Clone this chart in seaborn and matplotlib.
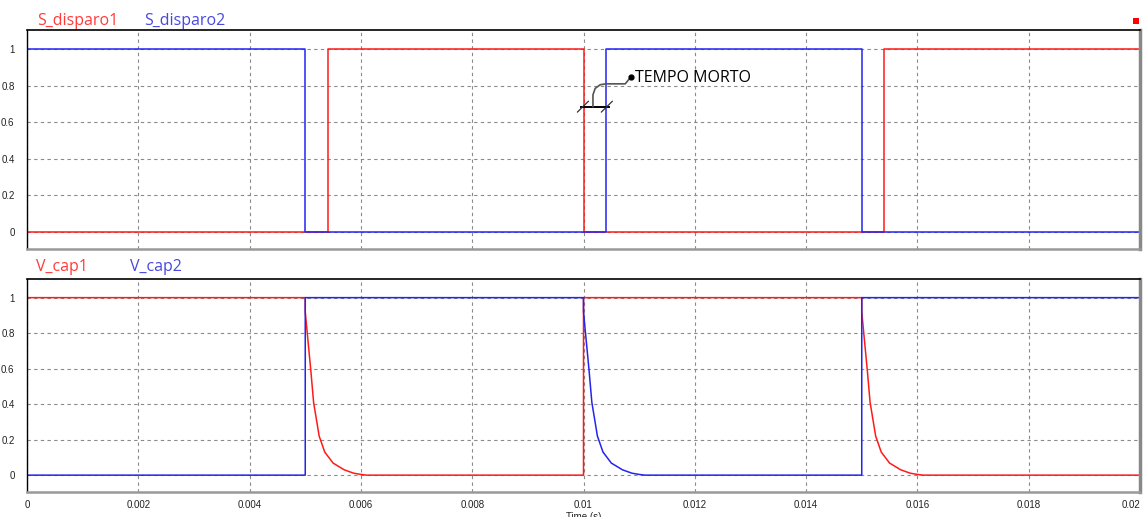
import matplotlib
matplotlib.use("Agg")
import matplotlib.pyplot as plt
from matplotlib.patches import Rectangle
import numpy as np
import pandas as pd
import seaborn as sns

# Gate signals (upper panel)
s1_t = [0.0, 0.0, 0.0054, 0.0054, 0.0100, 0.0100, 0.0154, 0.0154, 0.0200]
s1_v = [1.0, 0.0, 0.0, 1.0, 1.0, 0.0, 0.0, 1.0, 1.0]
s2_t = [0.0, 0.0050, 0.0050, 0.0104, 0.0104, 0.0150, 0.0150, 0.0200]
s2_v = [1.0, 1.0, 0.0, 0.0, 1.0, 1.0, 0.0, 0.0]

# Capacitor voltages (lower panel): discharge profile after each switching edge
decay_dt = [0.0, 0.00003, 0.0001, 0.00015, 0.00025, 0.00035, 0.0005, 0.0007, 0.00087, 0.001, 0.0011]
decay_v = [0.92, 0.82, 0.59, 0.41, 0.22, 0.13, 0.068, 0.03, 0.011, 0.004, 0.0]
switch_times = [0.005, 0.010, 0.015]

t_end = 0.02
red_c = "#ff1a1a"
blue_c = "#2424f0"


def vcap1():
    t = [0.0, 0.0, switch_times[0]]
    v = [0.5, 1.0, 1.0]
    t += [switch_times[0] + d for d in decay_dt]
    v += decay_v
    t += [switch_times[1], switch_times[1], switch_times[2]]
    v += [0.0, 1.0, 1.0]
    t += [switch_times[2] + d for d in decay_dt]
    v += decay_v
    t += [t_end]
    v += [0.0]
    return t, v


def vcap2():
    t = [0.0, switch_times[0], switch_times[0], switch_times[1]]
    v = [0.0, 0.0, 1.0, 1.0]
    t += [switch_times[1] + d for d in decay_dt]
    v += decay_v
    t += [switch_times[2], switch_times[2], t_end]
    v += [0.0, 1.0, 1.0]
    return t, v


sns.set_style("white")
plt.rcParams["font.family"] = ["Liberation Sans", "DejaVu Sans"]

W, H = 1145, 517
fig = plt.figure(figsize=(W / 100, H / 100), dpi=100)


def px_axes(x0, y0, x1, y1):
    return fig.add_axes([x0 / W, 1 - y1 / H, (x1 - x0) / W, (y1 - y0) / H])


ax1 = px_axes(27, 30, 1140, 249)
ax2 = px_axes(27, 279, 1140, 492)

xt = np.round(np.arange(0, 0.0201, 0.002), 3)
yt = np.round(np.arange(0, 1.01, 0.2), 1)

for ax in (ax1, ax2):
    ax.set_xlim(0, t_end)
    ax.set_ylim(-0.095, 1.105)
    ax.set_xticks(xt)
    ax.set_yticks(yt)
    ax.set_yticklabels([f"{v:g}" for v in yt])
    ax.grid(True, color="#8a8a8a", linestyle=(0, (3, 3)), linewidth=0.8)
    ax.tick_params(length=0, labelsize=7, labelcolor="#222222")
    ax.tick_params(axis="y", pad=9)
    ax.tick_params(axis="x", pad=6)
    ax.spines["top"].set_color("black")
    ax.spines["top"].set_linewidth(1.2)
    ax.spines["left"].set_color("black")
    ax.spines["left"].set_linewidth(1.0)
    ax.spines["right"].set_color("#888888")
    ax.spines["right"].set_linewidth(2.5)
    ax.spines["bottom"].set_color("#999999")
    ax.spines["bottom"].set_linewidth(1.8)

ax1.set_xticklabels([])
xlabels = ax2.set_xticklabels([f"{v:g}" for v in xt])
xlabels[-1].set_horizontalalignment("right")

df_s1 = pd.DataFrame({"t": s1_t, "v": s1_v})
df_s2 = pd.DataFrame({"t": s2_t, "v": s2_v})
sns.lineplot(data=df_s1, x="t", y="v", estimator=None, sort=False, color=red_c, lw=1.1, ax=ax1)
sns.lineplot(data=df_s2, x="t", y="v", estimator=None, sort=False, color=blue_c, lw=1.1, ax=ax1)

c1_t, c1_v = vcap1()
c2_t, c2_v = vcap2()
df_c1 = pd.DataFrame({"t": c1_t, "v": c1_v})
df_c2 = pd.DataFrame({"t": c2_t, "v": c2_v})
sns.lineplot(data=df_c1, x="t", y="v", estimator=None, sort=False, color=red_c, lw=1.1, ax=ax2)
sns.lineplot(data=df_c2, x="t", y="v", estimator=None, sort=False, color=blue_c, lw=1.1, ax=ax2)

for ax in (ax1, ax2):
    ax.set_xlabel("")
    ax.set_ylabel("")

# Dead-time dimension marker
dim_y = 0.685
dim_t0, dim_t1 = 0.00993, 0.01048
ax1.plot([dim_t0, dim_t1], [dim_y, dim_y], color="black", lw=1.4, solid_capstyle="butt")
for tx in (dim_t0 + 0.00006, dim_t1 - 0.00006):
    ax1.plot([tx - 0.0001, tx + 0.0001], [dim_y - 0.03, dim_y + 0.03], color="#333333", lw=0.9)
leader_t = [0.01017, 0.01017, 0.01021, 0.01030, 0.01040, 0.01075, 0.01085]
leader_v = [dim_y, 0.75, 0.785, 0.805, 0.81, 0.81, 0.847]
ax1.plot(leader_t, leader_v, color="#555555", lw=1.2)
ax1.plot([leader_t[-1]], [leader_v[-1]], "o", color="black", ms=3.5)
ax1.text(0.01093, 0.84, "TEMPO MORTO", fontsize=11.5, family=["Open Sans", "DejaVu Sans"],
         color="black", va="center", ha="left")

# Trace names above each panel
name_font = ["Open Sans", "DejaVu Sans"]
fig.text(37 / W, 1 - 25 / H, "S_disparo1", color="#ff3b3b", fontsize=11.5, family=name_font, va="baseline")
fig.text(144 / W, 1 - 25 / H, "S_disparo2", color="#4848e0", fontsize=11.5, family=name_font, va="baseline")
fig.text(36 / W, 1 - 271 / H, "V_cap1", color="#ff3b3b", fontsize=11.5, family=name_font, va="baseline")
fig.text(130 / W, 1 - 271 / H, "V_cap2", color="#4848e0", fontsize=11.5, family=name_font, va="baseline")

# Axis title sits at the very bottom edge of the canvas
fig.text(583.5 / W, 1 - 512 / H, "Time (s)", fontsize=7, color="#222222", ha="center", va="top")

fig.add_artist(Rectangle((1133 / W, 1 - 24 / H), 6 / W, 6 / H, transform=fig.transFigure,
                         facecolor="#ff0000", edgecolor="none"))

fig.savefig("out.png", dpi=100)
